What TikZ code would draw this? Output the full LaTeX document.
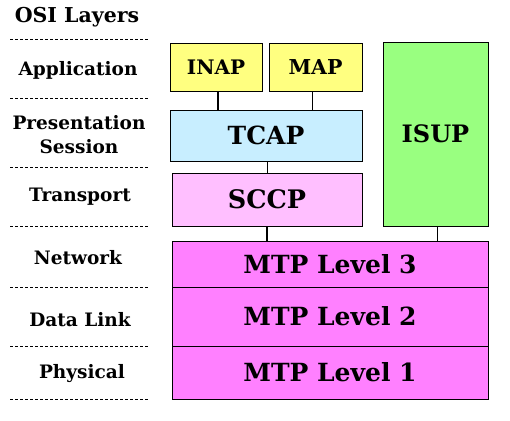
\documentclass[tikz,border=0pt]{standalone}
\usepackage{fontspec}
\setmainfont{DejaVu Serif}
\definecolor{cyel}{HTML}{FFFF80}
\definecolor{cblu}{HTML}{C8EEFF}
\definecolor{cpnk}{HTML}{FFBFFF}
\definecolor{cgrn}{HTML}{99FF80}
\definecolor{cmag}{HTML}{FF80FF}
\begin{document}
\begin{tikzpicture}[x=1pt,y=-1pt]
\tikzset{
  layer/.style={draw=black, line width=0.9pt, inner sep=0pt},
  osi/.style={font=\bfseries\fontsize{18.5}{24}\selectfont, align=center, inner sep=0pt},
  sepline/.style={dash pattern=on 3pt off 2pt, line width=0.8pt},
  thin link/.style={line width=0.9pt},
  thick link/.style={line width=2.5pt},
}
\useasboundingbox (0,0) rectangle (510,420);
% left column
\node[osi, font=\bfseries\fontsize{20.5}{22}\selectfont] (osi) at (77,17) {OSI Layers};
\node[osi] (app) at (78,70) {Application};
\node[osi] (pres) at (79,135) {Presentation\\Session};
\node[osi] (trans) at (80,197) {Transport};
\node[osi] (net) at (78,258) {Network};
\node[osi] (dl) at (80,320) {Data Link};
\node[osi] (phy) at (82,374) {Physical};
\foreach \yy in {39,98,167,226,287,346,399}
  \draw[sepline] (10,\yy) -- (149,\yy);
% stack
\node[layer, fill=cyel, minimum width=92pt, minimum height=48pt, font=\bfseries\fontsize{20}{22}\selectfont] (inap) at (216,67) {INAP};
\node[layer, fill=cyel, minimum width=93pt, minimum height=48pt, font=\bfseries\fontsize{20.5}{22}\selectfont] (map) at (315.5,67) {MAP};
\node[layer, fill=cblu, minimum width=192pt, minimum height=51pt, font=\bfseries\fontsize{25}{26}\selectfont] (tcap) at (266,135.5) {TCAP};
\node[layer, fill=cpnk, minimum width=190pt, minimum height=53pt, font=\bfseries\fontsize{25.5}{26}\selectfont] (sccp) at (267,199.5) {SCCP};
\node[layer, fill=cgrn, minimum width=105pt, minimum height=184pt, font=\bfseries\fontsize{24}{26}\selectfont] (isup) at (435.5,134) {ISUP};
\node[layer, fill=cmag, minimum width=316pt, minimum height=46pt, font=\bfseries\fontsize{25}{26}\selectfont] (mtp3) at (330,264) {MTP Level 3};
\node[layer, fill=cmag, minimum width=316pt, minimum height=59pt, font=\bfseries\fontsize{25}{26}\selectfont] (mtp2) at (330,316.5) {MTP Level 2};
\node[layer, fill=cmag, minimum width=316pt, minimum height=53pt, font=\bfseries\fontsize{25}{26}\selectfont] (mtp1) at (330,372.5) {MTP Level 1};
% links
\draw[line width=2pt] ([xshift=2pt]inap.south) -- ([xshift=2pt]inap.south |- tcap.north);
\draw[thin link] ([xshift=-3.5pt]map.south) -- ([xshift=-3.5pt]map.south |- tcap.north);
\draw[thin link] ([xshift=1pt]tcap.south) -- ([xshift=1pt]tcap.south |- sccp.north);
\draw[thick link] (sccp.south) -- (sccp.south |- mtp3.north);
\draw[thin link] ([xshift=1.5pt]isup.south) -- ([xshift=1.5pt]isup.south |- mtp3.north);
\end{tikzpicture}
\end{document}
